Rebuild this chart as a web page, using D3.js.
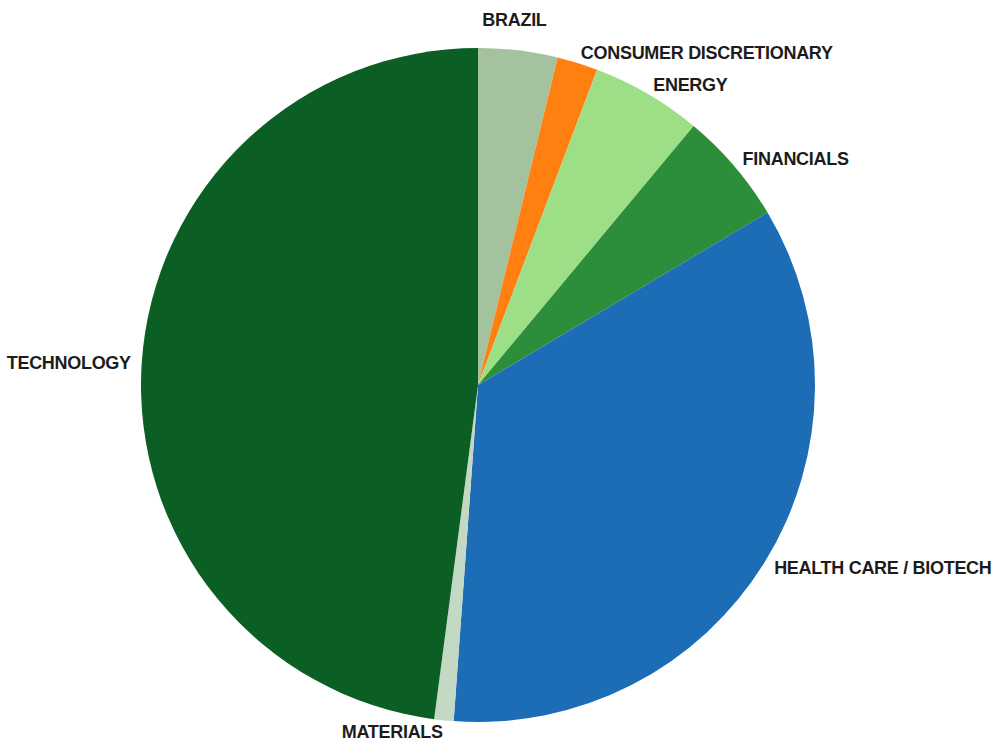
<!DOCTYPE html>
<html>
<head>
<meta charset="utf-8">
<script src="https://cdn.jsdelivr.net/npm/d3@7"></script>
<style>
  body { margin: 0; background: #fff; }
  svg { display: block; }
  .label { font-family: 'Liberation Sans', Arial, sans-serif; font-size: 18px; font-weight: bold; fill: #1c1c1c; letter-spacing: -0.3px; }
</style>
</head>
<body>
<div id="chart"></div>
<script>
// sector weights (%), clockwise from 12 o'clock
const sectors = ['BRAZIL', 'CONSUMER DISCRETIONARY', 'ENERGY', 'FINANCIALS', 'HEALTH CARE / BIOTECH', 'MATERIALS', 'TECHNOLOGY'];
const weights = [3.8, 1.95, 5.3, 5.4, 34.7, 0.93, 47.92];
const colors = ['#a3c29d', '#ff8010', '#9ddf87', '#2c8e3a', '#1c6db5', '#c3d9c3', '#0b5e24'];

const width = 1002, height = 751;
const cx = 478, cy = 385, radius = 337;
const labelRadius = 348;

// a few labels got shifted by the original renderer to avoid overlaps
const labelShift = { 'BRAZIL': { dx: -5, dy: -20, anchor: 'middle' } };

const data = sectors.map((s, i) => ({ name: s, value: weights[i], color: colors[i] }));

const svg = d3.select('#chart').append('svg')
  .attr('width', width)
  .attr('height', height);

const g = svg.append('g').attr('transform', 'translate(' + cx + ',' + cy + ')');

const pie = d3.pie().sort(null).value(d => d.value);
const arc = d3.arc().innerRadius(0).outerRadius(radius);

const arcs = pie(data);

g.selectAll('path')
  .data(arcs)
  .enter().append('path')
  .attr('d', arc)
  .style('fill', d => d.data.color)
  .style('stroke', 'none');

g.selectAll('text')
  .data(arcs)
  .enter().append('text')
  .attr('class', 'label')
  .attr('x', d => {
    const a = (d.startAngle + d.endAngle) / 2;
    const s = labelShift[d.data.name];
    return labelRadius * Math.sin(a) + (s ? s.dx : 0);
  })
  .attr('y', d => {
    const a = (d.startAngle + d.endAngle) / 2;
    const s = labelShift[d.data.name];
    return -labelRadius * Math.cos(a) + (s ? s.dy : 0);
  })
  .attr('dy', '0.35em')
  .attr('text-anchor', d => {
    const s = labelShift[d.data.name];
    if (s && s.anchor) return s.anchor;
    const a = (d.startAngle + d.endAngle) / 2;
    return a < Math.PI ? 'start' : 'end';
  })
  .text(d => d.data.name);
</script>
</body>
</html>
